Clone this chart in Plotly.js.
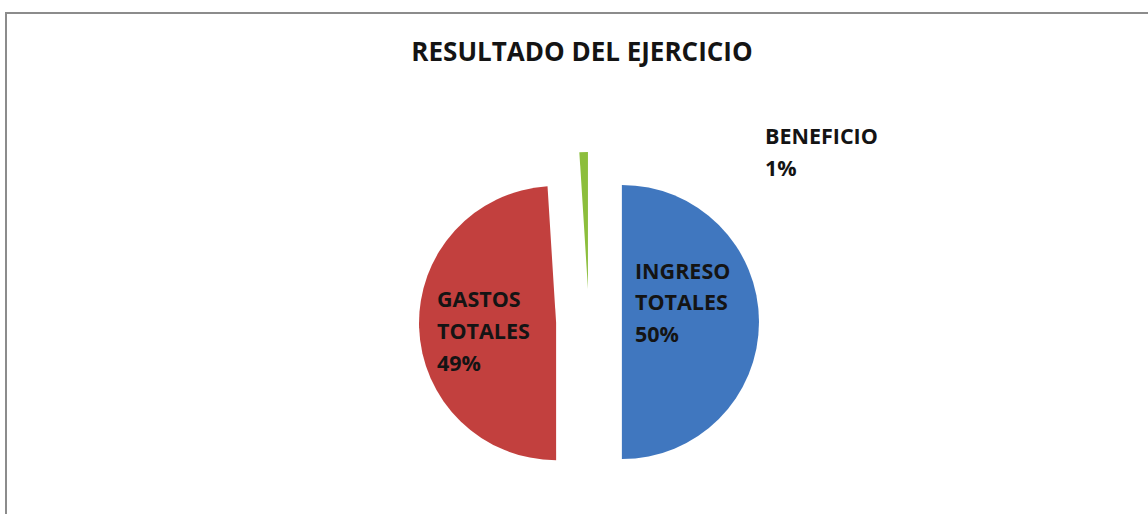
<!DOCTYPE html>
<html>
<head>
<meta charset="utf-8">
<script src="https://cdn.plot.ly/plotly-3.0.1.min.js"></script>
<style>
  html, body { margin: 0; padding: 0; background: #ffffff; }
  #frame { position: absolute; left: 5px; top: 12px; width: 1200px; height: 600px;
           border-top: 2px solid #8c8c8c; border-left: 2px solid #8c8c8c; }
  #chart { position: absolute; left: 0; top: 0; width: 1148px; height: 514px; }
</style>
</head>
<body>
<div id="frame"></div>
<div id="chart"></div>
<script>
// ---- data ----
const categories = ["INGRESO TOTALES", "GASTOS TOTALES", "BENEFICIO"];
const values = [50, 49, 1];
const colors = ["#4077bf", "#c2403e", "#8cbe3c"];
const chartTitle = "RESULTADO DEL EJERCICIO";

// ---- layout helpers (pixel -> paper) ----
const W = 1148, H = 514;
const px = x => x / W;
const py = y => 1 - y / H;

const total = values.reduce((a, b) => a + b, 0);
const pct = values.map(v => Math.round(v / total * 100) + "%");

// label line positions (left x, middle y of each line)
const labelPos = [
  { x: 633, ys: [270, 301, 333] },
  { x: 435, ys: [298, 330, 362] },
  { x: 763, ys: [136, 168] }
];

const font = "'Open Sans', 'Noto Sans', sans-serif";
const annotations = [];
categories.forEach((cat, i) => {
  const lines = cat.split(" ").concat([pct[i]]);
  lines.forEach((ln, j) => {
    annotations.push({
      text: "<b>" + ln + "</b>",
      xref: "paper", yref: "paper",
      x: px(labelPos[i].x), y: py(labelPos[i].ys[j]),
      xanchor: "left", yanchor: "middle",
      showarrow: false,
      font: { family: font, size: 21.5, color: "#141414" }
    });
  });
});

const trace = {
  type: "pie",
  labels: categories,
  values: values,
  sort: false,
  direction: "clockwise",
  rotation: 0,
  pull: [0.24, 0.24, 0.24],
  marker: { colors: colors, line: { width: 0 } },
  textinfo: "none",
  hoverinfo: "label+percent",
  showlegend: false,
  domain: { x: [px(419), px(759)], y: [py(492), py(152)] }
};

const layout = {
  width: W, height: H,
  margin: { l: 0, r: 0, t: 0, b: 0 },
  paper_bgcolor: "rgba(0,0,0,0)",
  plot_bgcolor: "rgba(0,0,0,0)",
  title: {
    text: "<b>" + chartTitle + "</b>",
    x: px(582), xanchor: "center", xref: "paper",
    y: py(52), yanchor: "middle", yref: "container",
    font: { family: font, size: 26, color: "#141414" }
  },
  annotations: annotations,
  showlegend: false
};

Plotly.newPlot("chart", [trace], layout, { displayModeBar: false, staticPlot: true });
</script>
</body>
</html>
